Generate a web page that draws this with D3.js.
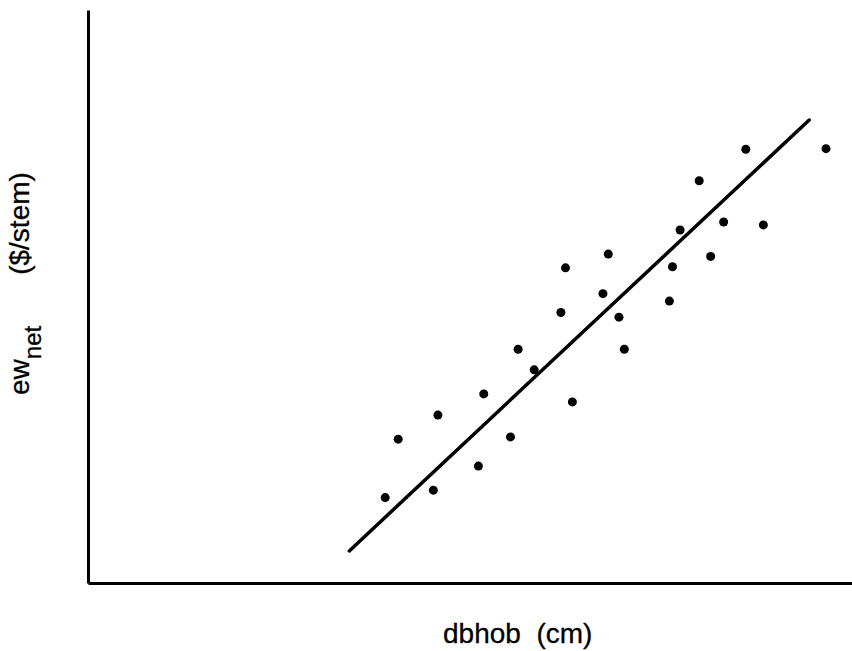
<!DOCTYPE html>
<html><head><meta charset="utf-8">
<script src="https://cdn.jsdelivr.net/npm/d3@7"></script>
<style>
html,body{margin:0;padding:0;background:#fff;}
svg{display:block;}
text{font-family:"Liberation Sans",Arial,Helvetica,sans-serif;fill:#000;}
</style></head>
<body>
<div id="chart"></div>
<script>
// dbhob (cm) values, arbitrary units
const dbhob = [38.9,40.6,45.2,45.8,51.1,51.8,55.3,56.3,58.4,61.9,62.5,63.4,67.4,68.1,69.5,70.2,76.1,76.5,77.5,80.0,81.5,83.2,86.1,88.4,96.6];
// ew_net ($/stem) values
const ewnet = [14.9,25.1,16.2,29.3,20.4,33.0,25.5,40.8,37.2,47.2,55.0,31.6,50.5,57.4,46.4,40.8,49.2,55.2,61.6,70.2,57.0,63.0,75.7,62.5,75.8];
// fitted regression line endpoints
const fitX = [34.2,94.4];
const fitY = [5.6,80.8];
const xDomain = [0,100];
const yDomain = [0,100];
const xTitle = "dbhob  (cm)";
const yTitleMain = "ew";
const yTitleSub = "net";
const yTitleUnit = "($/stem)";

const W=852,H=651;
const m={left:88,right:0,top:10,bottom:68};
const svg=d3.select("#chart").append("svg").attr("width",W).attr("height",H);

const x=d3.scaleLinear().domain(xDomain).range([m.left,W-m.right]);
const y=d3.scaleLinear().domain(yDomain).range([H-m.bottom,m.top]);

const xAxis=svg.append("g").attr("transform",`translate(0,${H-m.bottom})`)
  .call(d3.axisBottom(x).tickValues([]).tickSizeOuter(0));
xAxis.select(".domain").attr("stroke","#000").attr("stroke-width",3);
const yAxis=svg.append("g").attr("transform",`translate(${m.left},0)`)
  .call(d3.axisLeft(y).tickValues([]).tickSizeOuter(0));
yAxis.select(".domain").attr("stroke","#000").attr("stroke-width",3);

// regression line
svg.append("line")
  .attr("x1",x(fitX[0])).attr("y1",y(fitY[0]))
  .attr("x2",x(fitX[1])).attr("y2",y(fitY[1]))
  .attr("stroke","#000").attr("stroke-width",3.5).attr("stroke-linecap","round");

// points
svg.append("g").selectAll("circle").data(dbhob.map((d,i)=>[d,ewnet[i]])).join("circle")
  .attr("cx",d=>x(d[0])).attr("cy",d=>y(d[1])).attr("r",4.5).attr("fill","#000");

// x title
svg.append("text").attr("x",443).attr("y",643).attr("font-size",28)
  .attr("stroke","#000").attr("stroke-width",0.3)
  .style("white-space","pre").text(xTitle);

// y title (rotated)
const yt=svg.append("text").attr("transform","translate(29,395) rotate(-90)")
  .attr("font-size",28).attr("stroke","#000").attr("stroke-width",0.3)
  .style("white-space","pre");
yt.append("tspan").text(yTitleMain);
yt.append("tspan").attr("font-size",24).attr("dy",12).text(yTitleSub);
yt.append("tspan").attr("dy",-12).attr("dx",51).text(yTitleUnit);
</script>
</body></html>
